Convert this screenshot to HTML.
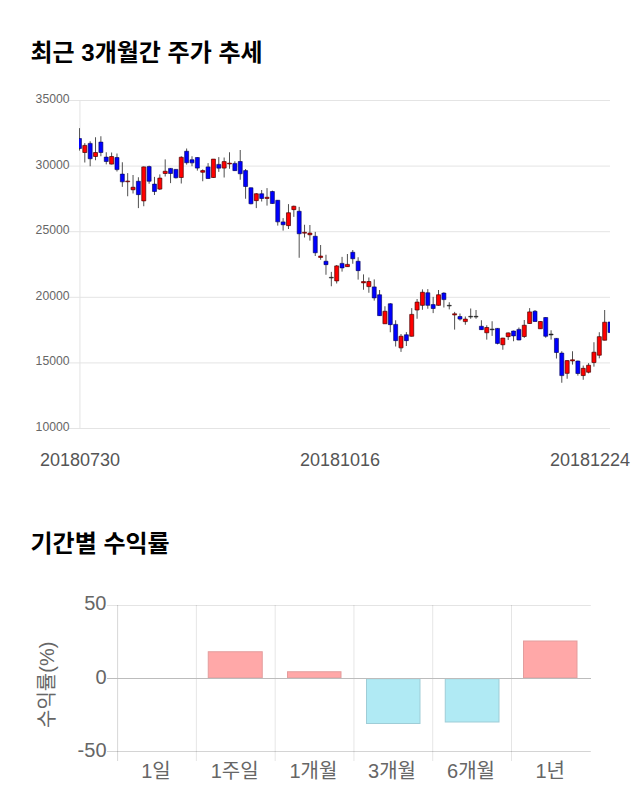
<!DOCTYPE html>
<html><head><meta charset="utf-8"><title>chart</title>
<style>html,body{margin:0;padding:0;background:#fff}body{width:640px;height:810px;overflow:hidden;font-family:"Liberation Sans",sans-serif}svg{display:block}</style>
</head><body>
<svg width="640" height="810" viewBox="0 0 640 810">
<rect width="640" height="810" fill="#fff"/>
<text x="30.5" y="61" font-family="'Liberation Sans','Noto Sans CJK KR',sans-serif" font-size="24" font-weight="bold" fill="#000">최근 3개월간 주가 추세</text>
<text x="30.5" y="551.5" font-family="'Liberation Sans','Noto Sans CJK KR',sans-serif" font-size="24" font-weight="bold" fill="#000">기간별 수익률</text>
<rect x="69" y="100.00" width="541.0" height="1" fill="#e4e4e4"/>
<rect x="69" y="165.60" width="541.0" height="1" fill="#e4e4e4"/>
<rect x="69" y="231.20" width="541.0" height="1" fill="#e4e4e4"/>
<rect x="69" y="296.80" width="541.0" height="1" fill="#e4e4e4"/>
<rect x="69" y="362.40" width="541.0" height="1" fill="#e4e4e4"/>
<rect x="69" y="428.00" width="541.0" height="1" fill="#e4e4e4"/>
<rect x="79.43" y="100.00" width="1" height="329.00" fill="#e4e4e4"/>
<text x="69.5" y="103.05" text-anchor="end" font-family="'Liberation Sans',sans-serif" font-size="12.2" fill="#666">35000</text>
<text x="69.5" y="168.65" text-anchor="end" font-family="'Liberation Sans',sans-serif" font-size="12.2" fill="#666">30000</text>
<text x="69.5" y="234.25" text-anchor="end" font-family="'Liberation Sans',sans-serif" font-size="12.2" fill="#666">25000</text>
<text x="69.5" y="299.85" text-anchor="end" font-family="'Liberation Sans',sans-serif" font-size="12.2" fill="#666">20000</text>
<text x="69.5" y="365.45" text-anchor="end" font-family="'Liberation Sans',sans-serif" font-size="12.2" fill="#666">15000</text>
<text x="69.5" y="431.05" text-anchor="end" font-family="'Liberation Sans',sans-serif" font-size="12.2" fill="#666">10000</text>
<defs><clipPath id="cp"><rect x="79" y="90" width="531" height="345"/></clipPath></defs>
<g clip-path="url(#cp)">
<path d="M79.45 128.12V150.62M84.81 143.12V162.50M90.17 141.25V166.25M95.53 137.25V160.25M100.89 136.25V156.25M106.25 152.25V164.38M111.61 152.50V164.38M116.97 153.50V171.50M122.33 162.25V186.88M127.68 173.12V196.25M133.04 175.00V193.50M138.40 177.25V208.12M143.76 166.50V206.25M149.12 165.62V183.75M154.48 176.88V195.00M159.84 174.38V190.00M165.20 159.38V176.50M170.56 168.12V183.12M175.92 169.12V178.50M181.28 156.25V183.50M186.64 148.50V164.62M192.00 156.25V166.25M197.36 157.25V170.62M202.72 169.38V181.25M208.08 163.12V178.75M213.43 159.00V177.75M218.79 157.12V171.88M224.15 157.50V177.50M229.51 152.25V168.75M234.87 161.25V171.00M240.23 150.00V179.75M245.59 169.00V198.75M250.95 187.50V204.38M256.31 193.12V208.12M261.67 190.00V201.50M267.03 188.12V205.62M272.39 190.62V203.75M277.75 200.00V225.62M283.11 218.12V230.62M288.47 204.12V229.00M293.83 205.62V216.88M299.18 206.88V257.75M304.54 224.75V237.50M309.90 225.00V240.62M315.26 231.88V256.00M320.62 245.00V259.75M325.98 254.75V274.75M331.34 271.88V286.25M336.70 265.00V283.50M342.06 256.88V271.62M347.42 254.00V266.88M352.78 250.00V263.75M358.14 257.25V279.62M363.50 274.38V289.75M368.86 277.50V292.75M374.22 279.38V300.62M379.58 290.00V315.88M384.94 306.25V324.00M390.29 303.12V332.25M395.65 320.25V346.50M401.01 334.00V351.88M406.37 332.12V346.00M411.73 308.12V336.50M417.09 299.00V318.75M422.45 289.38V309.75M427.81 289.12V308.75M433.17 296.88V313.12M438.53 290.00V305.62M443.89 292.25V307.50M449.25 302.25V309.38M454.61 311.88V329.62M459.97 313.50V320.62M465.33 316.50V324.75M470.69 308.50V318.75M476.04 310.00V318.75M481.40 320.25V329.75M486.76 325.25V339.62M492.12 321.25V335.88M497.48 328.12V344.38M502.84 337.75V349.75M508.20 332.50V340.00M513.56 330.62V341.25M518.92 327.50V340.25M524.28 320.00V337.88M529.64 308.12V323.75M535.00 310.00V321.88M540.36 321.25V329.00M545.72 317.25V337.75M551.08 330.25V339.62M556.44 338.12V358.50M561.79 351.25V382.75M567.15 360.25V378.75M572.51 351.25V364.62M577.87 360.62V375.62M583.23 365.56V379.78M588.59 363.11V373.33M593.95 342.22V366.67M599.31 332.22V358.33M604.67 310.00V340.33M610.03 322.00V332.56" stroke="#505050" stroke-width="1" fill="none"/>
<path d="M82.81 145.38h4v7.12h-4zM93.53 152.50h4v4.00h-4zM109.61 156.50h4v7.62h-4zM131.04 187.25h4v2.50h-4zM141.76 166.88h4v34.00h-4zM157.84 178.12h4v11.00h-4zM163.20 171.25h4v2.25h-4zM179.28 157.25h4v20.25h-4zM200.72 170.62h4v1.62h-4zM211.43 159.12h4v18.38h-4zM222.15 161.62h4v6.50h-4zM254.31 193.75h4v6.88h-4zM286.47 212.75h4v12.88h-4zM291.83 206.25h4v3.38h-4zM307.90 233.12h4v1.62h-4zM334.70 265.88h4v15.00h-4zM345.42 264.38h4v2.25h-4zM366.86 281.50h4v5.12h-4zM382.94 311.25h4v12.50h-4zM399.01 336.25h4v11.62h-4zM409.73 314.38h4v21.88h-4zM415.09 302.12h4v7.88h-4zM420.45 292.25h4v13.12h-4zM436.53 294.75h4v10.62h-4zM463.33 319.12h4v2.50h-4zM484.76 327.50h4v5.25h-4zM500.84 338.12h4v6.62h-4zM506.20 332.88h4v3.75h-4zM522.28 325.25h4v11.25h-4zM527.64 311.88h4v11.62h-4zM538.36 321.50h4v7.25h-4zM565.15 360.62h4v12.75h-4zM581.23 368.33h4v7.22h-4zM586.59 365.22h4v7.00h-4zM591.95 352.22h4v10.33h-4zM597.31 336.67h4v18.56h-4zM602.67 322.22h4v18.00h-4z" fill="#ff0000" stroke="#4a0000" stroke-width="0.7"/>
<path d="M77.45 138.50h4v10.00h-4zM88.17 143.38h4v15.38h-4zM98.89 142.12h4v10.38h-4zM104.25 157.12h4v4.38h-4zM114.97 157.50h4v12.12h-4zM120.33 174.12h4v7.75h-4zM136.40 181.25h4v13.38h-4zM147.12 166.62h4v14.62h-4zM152.48 184.12h4v7.38h-4zM168.56 168.38h4v5.12h-4zM173.92 169.38h4v8.38h-4zM184.64 151.25h4v11.50h-4zM190.00 159.75h4v3.12h-4zM195.36 157.50h4v10.62h-4zM206.08 166.88h4v11.62h-4zM216.79 164.38h4v3.75h-4zM232.87 163.38h4v7.25h-4zM238.23 161.50h4v12.25h-4zM243.59 170.62h4v15.88h-4zM248.95 187.75h4v16.00h-4zM259.67 193.75h4v4.75h-4zM270.39 191.50h4v12.00h-4zM275.75 200.25h4v21.62h-4zM281.11 221.88h4v2.88h-4zM297.18 211.25h4v22.50h-4zM313.26 236.25h4v16.50h-4zM323.98 261.25h4v3.38h-4zM340.06 263.38h4v4.50h-4zM350.78 252.25h4v6.50h-4zM356.14 261.25h4v9.38h-4zM372.22 286.88h4v11.00h-4zM377.58 294.75h4v20.88h-4zM388.29 303.75h4v20.88h-4zM393.65 324.38h4v16.25h-4zM404.37 334.75h4v5.88h-4zM425.81 292.75h4v12.62h-4zM431.17 304.62h4v3.88h-4zM441.89 293.12h4v6.50h-4zM457.97 316.50h4v2.62h-4zM479.40 326.25h4v3.38h-4zM495.48 328.38h4v15.00h-4zM511.56 331.00h4v4.88h-4zM516.92 329.38h4v10.62h-4zM533.00 311.25h4v10.25h-4zM543.72 317.50h4v18.75h-4zM554.44 338.38h4v14.12h-4zM559.79 353.12h4v22.50h-4zM575.87 361.00h4v12.50h-4zM608.03 322.00h4v10.56h-4z" fill="#0000ff" stroke="#000050" stroke-width="0.6"/>
<path d="M329.34 277.25h4v0.80h-4zM447.25 305.25h4v0.80h-4zM468.69 316.25h4v0.80h-4zM474.04 316.25h4v0.80h-4zM490.12 329.00h4v0.80h-4zM549.08 334.00h4v1.00h-4z" fill="#222" stroke="#222" stroke-width="0.5"/>
<path d="M125.68 181.00h4v0.80h-4zM227.51 163.12h4v0.88h-4zM265.03 197.25h4v1.25h-4zM302.54 232.25h4v0.88h-4zM318.62 256.00h4v1.50h-4zM361.50 281.50h4v1.38h-4zM452.61 313.75h4v1.25h-4zM570.51 359.75h4v1.25h-4z" fill="#c00000" stroke="#5a0000" stroke-width="0.6"/>
</g>
<text x="40" y="465.6" font-family="'Liberation Sans',sans-serif" font-size="18" fill="#555">20180730</text>
<text x="300" y="465.6" font-family="'Liberation Sans',sans-serif" font-size="18" fill="#555">20181016</text>
<text x="550" y="465.6" font-family="'Liberation Sans',sans-serif" font-size="18" fill="#555">20181224</text>
<rect x="107" y="605" width="483.79999999999995" height="1" fill="#000" fill-opacity="0.105"/>
<rect x="107" y="751" width="483.79999999999995" height="1" fill="#000" fill-opacity="0.17"/>
<rect x="117.10" y="605" width="1" height="156" fill="#000" fill-opacity="0.155"/>
<rect x="195.88" y="605" width="1" height="156" fill="#000" fill-opacity="0.1"/>
<rect x="274.66" y="605" width="1" height="156" fill="#000" fill-opacity="0.1"/>
<rect x="353.44" y="605" width="1" height="156" fill="#000" fill-opacity="0.1"/>
<rect x="432.22" y="605" width="1" height="156" fill="#000" fill-opacity="0.1"/>
<rect x="511.00" y="605" width="1" height="156" fill="#000" fill-opacity="0.1"/>
<rect x="208.25" y="651.75" width="54.00" height="26.00" fill="#ffa8a8" stroke="#e39d9d" stroke-width="1"/>
<rect x="287.50" y="671.75" width="53.50" height="6.00" fill="#ffa8a8" stroke="#e39d9d" stroke-width="1"/>
<rect x="366.50" y="678.75" width="53.50" height="44.75" fill="#b0eaf4" stroke="#9fcdd7" stroke-width="1"/>
<rect x="445.25" y="678.75" width="53.75" height="43.25" fill="#b0eaf4" stroke="#9fcdd7" stroke-width="1"/>
<rect x="523.50" y="641.00" width="53.50" height="36.75" fill="#ffa8a8" stroke="#e39d9d" stroke-width="1"/>
<rect x="107" y="678" width="484" height="1" fill="#bcbcbc" shape-rendering="crispEdges"/>
<text x="106.5" y="609.7" text-anchor="end" font-family="'Liberation Sans',sans-serif" font-size="20" fill="#666">50</text>
<text x="106.5" y="683.6" text-anchor="end" font-family="'Liberation Sans',sans-serif" font-size="20" fill="#666">0</text>
<text x="106.5" y="756.7" text-anchor="end" font-family="'Liberation Sans',sans-serif" font-size="20" fill="#666">-50</text>
<text x="156" y="777.6" text-anchor="middle" font-family="'Liberation Sans','Noto Sans CJK KR',sans-serif" font-size="20" fill="#666">1일</text>
<text x="234.6" y="777.6" text-anchor="middle" font-family="'Liberation Sans','Noto Sans CJK KR',sans-serif" font-size="20" fill="#666">1주일</text>
<text x="313.4" y="777.6" text-anchor="middle" font-family="'Liberation Sans','Noto Sans CJK KR',sans-serif" font-size="20" fill="#666">1개월</text>
<text x="392" y="777.6" text-anchor="middle" font-family="'Liberation Sans','Noto Sans CJK KR',sans-serif" font-size="20" fill="#666">3개월</text>
<text x="471" y="777.6" text-anchor="middle" font-family="'Liberation Sans','Noto Sans CJK KR',sans-serif" font-size="20" fill="#666">6개월</text>
<text x="550.2" y="777.6" text-anchor="middle" font-family="'Liberation Sans','Noto Sans CJK KR',sans-serif" font-size="20" fill="#666">1년</text>
<g transform="translate(53.6,727.93) rotate(-90)">
<text x="0" y="0" font-family="'Liberation Sans','Noto Sans CJK KR',sans-serif" font-size="20" fill="#666">수익률(%)</text>
</g>
</svg></body></html>
